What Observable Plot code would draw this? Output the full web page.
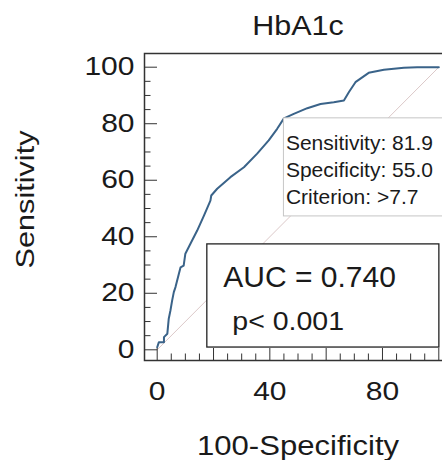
<!DOCTYPE html>
<html><head><meta charset="utf-8">
<script src="https://cdn.jsdelivr.net/npm/d3@7"></script>
<script src="https://cdn.jsdelivr.net/npm/@observablehq/plot@0.6"></script>
<style>body{margin:0;background:#fff}</style>
</head><body><div id="chart"></div>
<script>
const title = "HbA1c";
const xLabel = "100-Specificity";
const yLabel = "Sensitivity";
// ROC curve: 100-Specificity (x) and Sensitivity (y)
const fpr = [0, 0.6, 2.4, 2.4, 3.6, 4.1, 4.7, 5.3, 5.9, 6.5, 7.7, 8.3, 9.4, 10, 11.8, 14.2, 16.6, 18.9, 19.2, 21.3, 26, 30.8, 35.5, 39.6, 42.6, 45, 48.5, 53.3, 58, 62.7, 66.3, 68.1, 70.4, 75.1, 80.5, 87.6, 92.3, 100];
const tpr = [0.9, 2.7, 2.7, 4.5, 5.7, 11, 13.9, 17.4, 20.4, 22.2, 26.9, 29.2, 29.8, 34, 37.5, 42.2, 47.5, 52.8, 54.6, 57, 61.1, 64.6, 69.4, 74.1, 78.2, 81.9, 83.5, 85.5, 87, 87.6, 88.2, 91.2, 94.7, 98, 99.1, 99.8, 100, 100];
const diagonal = [0, 100];
const majorTicks = [0, 20, 40, 60, 80, 100];
const minorTicks = [5, 10, 15, 25, 30, 35, 45, 50, 55, 65, 70, 75, 85, 90, 95];
const xTickLabels = [0, 40, 80];
const yTickLabels = [0, 20, 40, 60, 80, 100];
const cutSensitivity = 81.9;
const cutSpecificity = 55.0;
const cutCriterion = ">7.7";
const aucValue = "0.740";
const pText = "p< 0.001";

const infoLines = [
  `Sensitivity: ${cutSensitivity.toFixed(1)}`,
  `Specificity: ${cutSpecificity.toFixed(1)}`,
  `Criterion: ${cutCriterion}`
];
const aucText = `AUC = ${aucValue}`;
const roc = fpr.map((x, i) => ({x, y: tpr[i]}));
const cx = 100 - cutSpecificity, cy = cutSensitivity;
const ink = "#1a1a1a";
const font = "'Liberation Sans', Arial, sans-serif";

const chart = Plot.plot({
  width: 442, height: 460,
  marginLeft: 144, marginRight: -9, marginTop: 53, marginBottom: 100,
  style: {fontFamily: font, background: "#fff", overflow: "hidden", color: ink},
  x: {domain: [0, 100], insetLeft: 12.7, insetRight: 12.7, label: null},
  y: {domain: [0, 100], insetTop: 13.7, insetBottom: 10.7, label: null},
  marks: [
    Plot.line(diagonal, {x: d => d, y: d => d, stroke: "#dcc9c9", strokeWidth: 1}),
    Plot.line(roc, {x: "x", y: "y", stroke: "#3a6389", strokeWidth: 2}),
    Plot.rect([0], {x1: cx, y1: cy, x2: 112, y2: cy - 34.7, fill: "white", stroke: "#c6c6c6", strokeWidth: 1}),
    Plot.text([infoLines[0]], {x: () => cx, y: () => cy, text: d => d, textAnchor: "start", lineAnchor: "bottom", dx: 2, dy: 31.4, fontSize: 21, fill: ink}),
    Plot.text([infoLines[1]], {x: () => cx, y: () => cy, text: d => d, textAnchor: "start", lineAnchor: "bottom", dx: 2, dy: 58.8, fontSize: 21, fill: ink}),
    Plot.text([infoLines[2]], {x: () => cx, y: () => cy, text: d => d, textAnchor: "start", lineAnchor: "bottom", dx: 2, dy: 85.4, fontSize: 21, fill: ink}),
    Plot.rect([0], {x1: 17.8, x2: 100.2, y1: 0.8, y2: 37.3, fill: "white", stroke: "#222", strokeWidth: 1.3}),
    Plot.text([aucText], {x: () => 17.8, y: () => 37.3, text: d => d, textAnchor: "start", lineAnchor: "bottom", dx: 16, dy: 42.7, fontSize: 30, fill: ink}),
    Plot.text([pText], {x: () => 17.8, y: () => 37.3, text: d => d, textAnchor: "start", lineAnchor: "bottom", dx: 25, dy: 86, fontSize: 25, fill: ink}),
    Plot.frame({stroke: "#333", strokeWidth: 1.5}),
    Plot.axisY({ticks: majorTicks, tickSize: -13, tickFormat: () => "", stroke: "#333", label: null}),
    Plot.axisY({ticks: minorTicks, tickSize: -6.5, tickFormat: () => "", stroke: "#333", label: null}),
    Plot.axisY({ticks: yTickLabels, tickSize: 0, tickPadding: 10, fontSize: 25, fill: ink, label: null}),
    Plot.axisX({ticks: majorTicks, tickSize: -12, tickFormat: () => "", stroke: "#333", label: null}),
    Plot.axisX({ticks: minorTicks, tickSize: -6.5, tickFormat: () => "", stroke: "#333", label: null}),
    Plot.axisX({ticks: xTickLabels, tickSize: 0, tickPadding: 22, fontSize: 25, fill: ink, label: null}),
    Plot.text([title], {frameAnchor: "top", text: d => d, textAnchor: "middle", lineAnchor: "bottom", dy: -19, fontSize: 27, fill: ink}),
    Plot.text([xLabel], {frameAnchor: "bottom", text: d => d, textAnchor: "middle", lineAnchor: "bottom", dy: 94, fontSize: 28, fill: ink}),
    Plot.text([yLabel], {frameAnchor: "left", text: d => d, rotate: -90, textAnchor: "middle", lineAnchor: "bottom", dx: -111, dy: -7.5, fontSize: 26, fill: ink})
  ]
});

function stretchText(match, s) {
  d3.select(chart).selectAll("text").filter(function() { return match(this.textContent); }).each(function() {
    const t = this.getAttribute("transform") || "";
    this.setAttribute("transform", `${t} scale(${s},1)`);
  });
}
const tickSet = new Set(majorTicks.map(String));
stretchText(s => tickSet.has(s), 1.2);
stretchText(s => s === title, 1.13);
stretchText(s => s === xLabel, 1.11);
stretchText(s => s === yLabel, 1.18);
stretchText(s => s === pText, 1.14);

document.getElementById("chart").append(chart);
</script>
</body></html>
